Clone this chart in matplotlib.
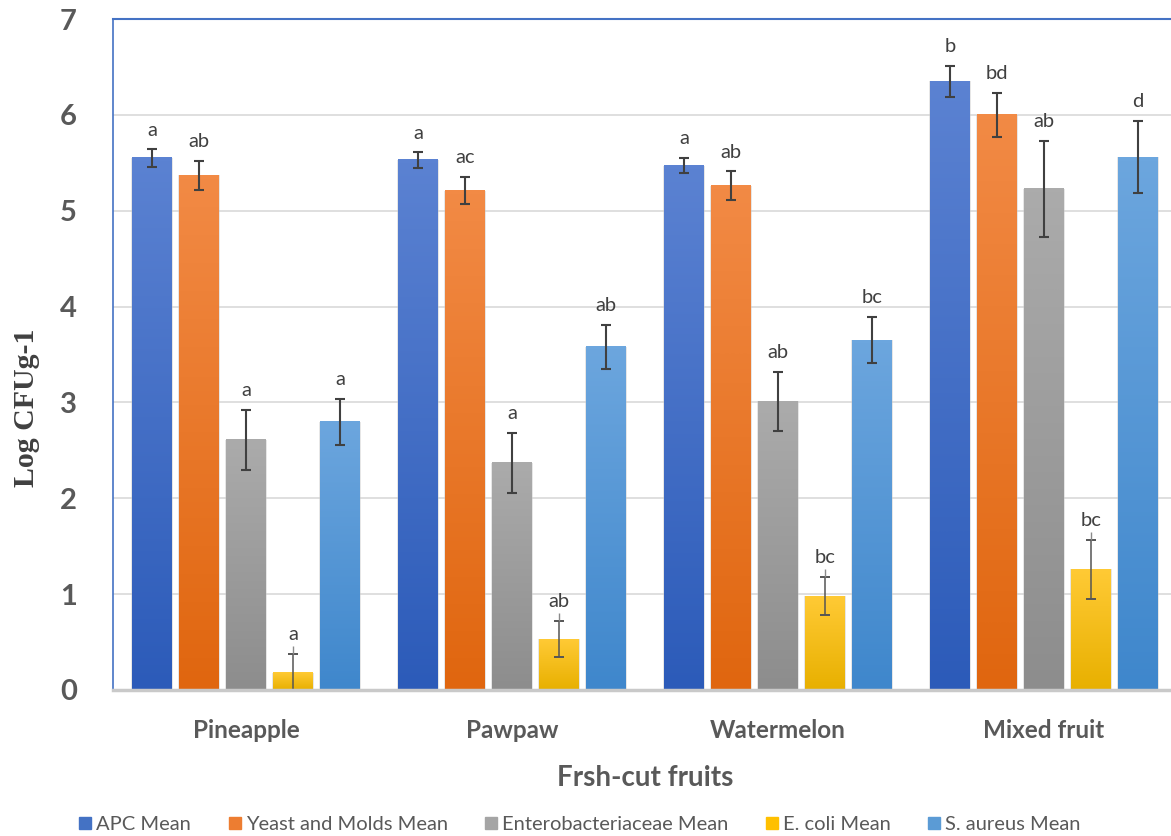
import numpy as np
import matplotlib
matplotlib.use('Agg')
import matplotlib.pyplot as plt
from matplotlib.colors import LinearSegmentedColormap
from matplotlib.patches import Rectangle


# Datos

fruits = ['Pineapple', 'Pawpaw', 'Watermelon', 'Mixed fruit']

series = ['APC Mean', 'Yeast and Molds Mean', 'Enterobacteriaceae Mean',
          'E. coli Mean', 'S. aureus Mean']

apc = [5.55, 5.53, 5.47, 6.35]
apc_err = [0.09, 0.08, 0.08, 0.16]
apc_sig = ['a', 'a', 'a', 'b']

yeast = [5.37, 5.21, 5.26, 6.00]
yeast_err = [0.15, 0.14, 0.15, 0.23]
yeast_sig = ['ab', 'ac', 'ab', 'bd']

entero = [2.61, 2.37, 3.01, 5.23]
entero_err = [0.31, 0.31, 0.31, 0.50]
entero_sig = ['a', 'a', 'ab', 'ab']

ecoli = [0.18, 0.53, 0.98, 1.26]
ecoli_err = [0.20, 0.19, 0.20, 0.31]
ecoli_sig = ['a', 'ab', 'bc', 'bc']

saureus = [2.80, 3.58, 3.65, 5.56]
saureus_err = [0.24, 0.23, 0.24, 0.38]
saureus_sig = ['a', 'ab', 'bc', 'd']


# Estilo

top_colors = ['#5b82d2', '#f28a45', '#ababab', '#ffca35', '#6ca6de']
bot_colors = ['#2c5bb9', '#e0660f', '#8d8d8d', '#e8b000', '#3f87cc']
legend_colors = ['#4472c4', '#ed7d31', '#a5a5a5', '#ffc000', '#5b9bd5']

txt_grey = '#595959'

plt.rcParams['font.family'] = ['Lato', 'DejaVu Sans']


fig = plt.figure(figsize=(11.71, 8.36), dpi=100)

ax = fig.add_axes([113/1171, 1 - 690/836, 1064/1171, 671/836])

x = np.arange(len(fruits))
pitch = 0.1767
width = 0.147

data = [(apc, apc_err, apc_sig), (yeast, yeast_err, yeast_sig),
        (entero, entero_err, entero_sig), (ecoli, ecoli_err, ecoli_sig),
        (saureus, saureus_err, saureus_sig)]

grad = np.linspace(1, 0, 100).reshape(-1, 1)

for i, (vals, errs, sigs) in enumerate(data):

    pos = x + (i - 2) * pitch

    bars = ax.bar(pos, vals, width, color='none', zorder=2)

    cmap = LinearSegmentedColormap.from_list('g%d' % i, [bot_colors[i], top_colors[i]])

    for b in bars:
        x0 = b.get_x()
        h = b.get_height()
        # sombra suave a los lados
        ax.add_patch(Rectangle((x0 - 0.006, 0), width + 0.012, h,
                               color='#c8c8c8', alpha=0.45, lw=0, zorder=1.8))
        ax.imshow(grad, extent=[x0, x0 + width, 0, h], aspect='auto',
                  cmap=cmap, vmin=0, vmax=1, zorder=2.1, interpolation='bicubic')

    if i == 3:
        ax.errorbar(pos, vals, yerr=errs, fmt='none', ecolor='#555555',
                    elinewidth=1.1, capsize=3.3, capthick=1.4, zorder=3)
        ax.vlines(pos, np.array(vals) + np.array(errs),
                  np.array(vals) + np.array(errs) + 0.08,
                  color='#8a8a8a', lw=1.0, zorder=3)
    else:
        ax.errorbar(pos, vals, yerr=errs, fmt='none', ecolor='#404040',
                    elinewidth=1.5, capsize=3.3, capthick=1.5, zorder=3)

    for p, v, e, s in zip(pos, vals, errs, sigs):
        ax.text(p, v + e + 0.2, s, ha='center', va='center',
                fontsize=14.5, color='#404040', zorder=4)


ax.set_xlim(-0.5, 3.5)
ax.set_ylim(0, 7)

ax.set_yticks(range(0, 8))
ax.set_xticks(x)
ax.set_xticklabels(fruits)

ax.yaxis.grid(True, color='#d9d9d9', lw=1.2, zorder=0)
ax.set_axisbelow(True)

for lab in ax.get_yticklabels():
    lab.set_fontweight('bold')
for lab in ax.get_xticklabels():
    lab.set_fontweight('bold')

ax.tick_params(axis='y', length=0, pad=26, labelsize=21, labelcolor=txt_grey)
ax.tick_params(axis='x', length=0, pad=21, labelsize=17.5, labelcolor=txt_grey)

ax.spines['top'].set_color('#4472c4')
ax.spines['left'].set_color('#4472c4')
ax.spines['top'].set_linewidth(1.5)
ax.spines['left'].set_linewidth(1.2)
ax.spines['right'].set_visible(False)
ax.spines['bottom'].set_color('#c9c9c9')
ax.spines['bottom'].set_linewidth(2.5)
ax.spines['bottom'].set_zorder(5)

ax.set_xlabel('Frsh-cut fruits', fontsize=20, fontweight='bold', color=txt_grey)
ax.xaxis.set_label_coords(0.5, -0.112)

ax.set_ylabel('Log CFUg-1', fontsize=21.5, fontweight='bold', color='#404040',
              family='Liberation Serif')
ax.yaxis.set_label_coords(-0.0686, 0.42)


# Leyenda

handles = [plt.Line2D([], [], marker='s', linestyle='None', markersize=9,
                      markerfacecolor=c, markeredgecolor=c) for c in legend_colors]

fig.legend(handles, series, loc='center', bbox_to_anchor=(578/1171, 1 - 824/836),
           ncol=5, frameon=False, fontsize=14.5, labelcolor=txt_grey,
           handletextpad=0.05, columnspacing=1.65, handlelength=1.0)


plt.savefig('out.png', dpi=100)
